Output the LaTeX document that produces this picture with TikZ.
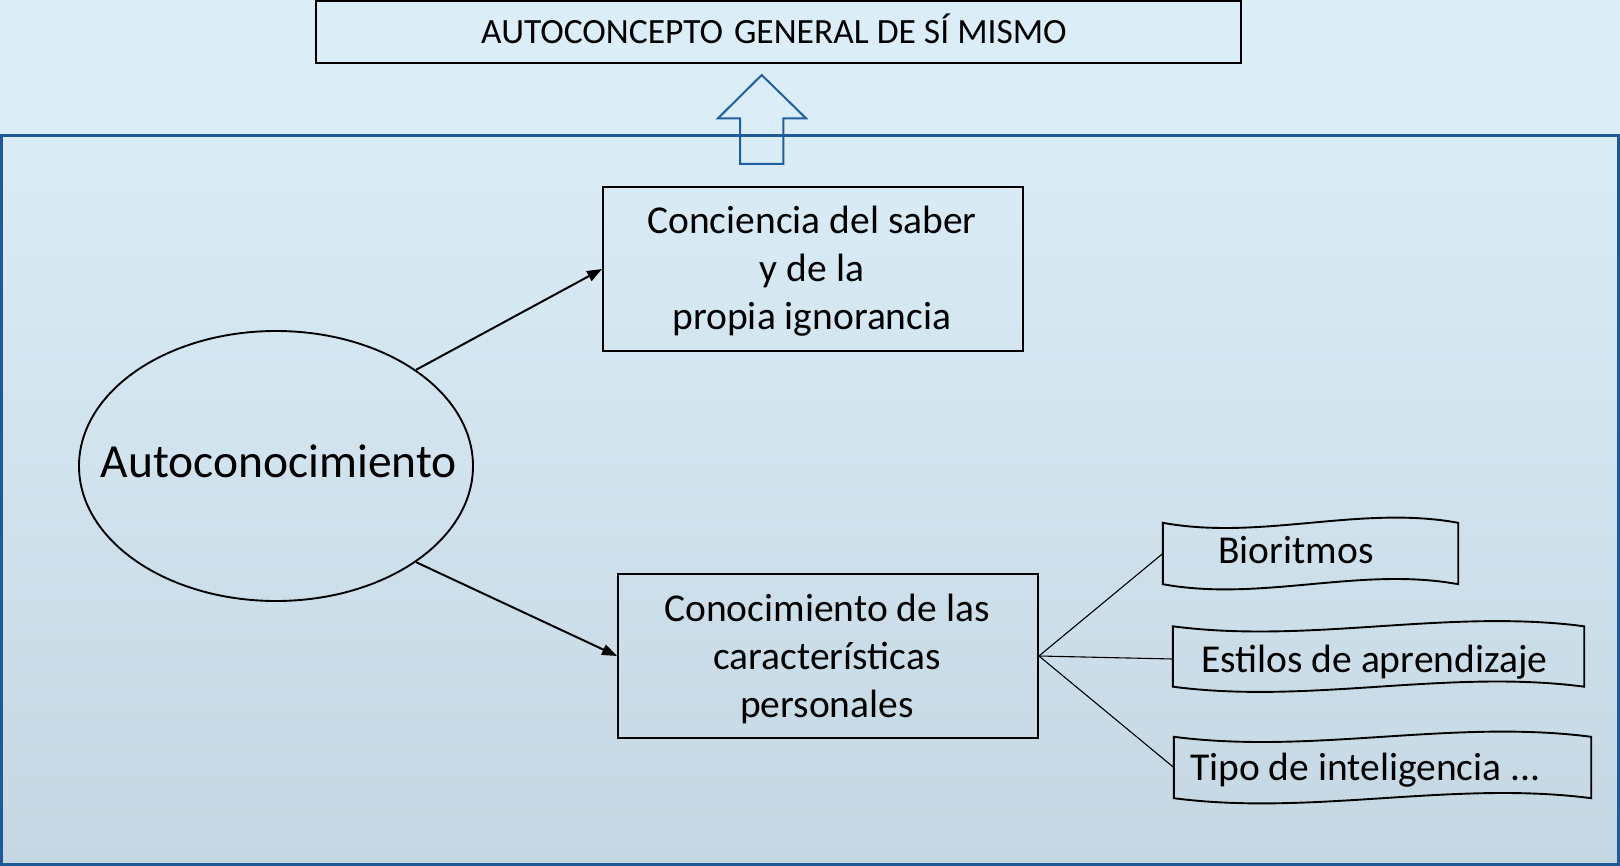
\documentclass[tikz,border=0pt]{standalone}
\usepackage{fontspec}
\setmainfont{Carlito}
\usetikzlibrary{arrows.meta,calc,shapes.geometric}
\definecolor{bgtop}{HTML}{DBEEF8}
\definecolor{paneltop}{HTML}{DAEDF7}
\definecolor{panelbot}{HTML}{C4D7E2}
\definecolor{frameblue}{HTML}{1F5A96}
\definecolor{arrowblue}{HTML}{1F5F9F}
\newcommand\wamp{18}
\newcommand\wavebox[1]{%
  \draw[waveline] (#1.north west)
    .. controls ($(#1.north west)!1/3!(#1.north east)+(0,\wamp)$) and ($(#1.north west)!2/3!(#1.north east)+(0,-\wamp)$) .. (#1.north east)
    -- (#1.south east)
    .. controls ($(#1.south east)!1/3!(#1.south west)+(0,-\wamp)$) and ($(#1.south east)!2/3!(#1.south west)+(0,\wamp)$) .. (#1.south west)
    -- cycle;}
\begin{document}
\begin{tikzpicture}[x=1pt,y=-1pt,
  boxshape/.style={draw=black, line width=1.9pt, inner sep=0pt},
  hidden/.style={inner sep=0pt, draw=none},
  waveline/.style={draw=black, line width=1.9pt},
  bigtxt/.style={font=\fontsize{47.5}{57}\selectfont, inner sep=0pt},
  midtxt/.style={font=\fontsize{39.5}{48}\selectfont, inner sep=0pt},
  titletxt/.style={font=\fontsize{35.5}{42}\selectfont, inner sep=0pt},
  conn/.style={line width=2pt, -{Triangle[length=15pt,width=11pt]}},
  thinline/.style={line width=1.1pt}
]
\useasboundingbox (0,0) rectangle (1620,866);
\fill[bgtop] (0,0) rectangle (1620,866);
% panel
\shade[top color=paneltop, bottom color=panelbot] (1.5,136) rectangle (1618.5,864.5);
\draw[frameblue, line width=3pt] (1.5,136) rectangle (1618.5,864.5);
% title box
\node[boxshape, minimum width=925pt, minimum height=62pt] (title) at (778.5,32) {};
\node[titletxt, anchor=base] (titlet) at (774,44) {AUTOCONCEPTO\hspace{11pt}GENERAL DE SÍ MISMO};
% block arrow
\draw[arrowblue, line width=2pt, line join=miter]
  (761.7,75) -- (806,118.3) -- (783.3,118.3) -- (783.3,164) -- (740,164) -- (740,118.3) -- (718,118.3) -- cycle;
% ellipse
\node[ellipse, draw=black, line width=1.9pt, minimum width=394pt, minimum height=270pt, inner sep=0pt] (auto) at (276,466) {};
\node[bigtxt, anchor=base] (autot) at (278.7,477) {Autoconocimiento};
% boxes
\node[boxshape, minimum width=420pt, minimum height=164pt] (conc) at (813,269) {};
\node[midtxt, anchor=base] (conct) at (812,234) {\begin{tabular}[t]{@{}c@{}}Conciencia del saber\\ y de la\\ propia ignorancia\end{tabular}};
\node[boxshape, minimum width=420pt, minimum height=164pt] (conoc) at (828,656) {};
\node[midtxt, anchor=base] (conoct) at (827,621) {\begin{tabular}[t]{@{}c@{}}Conocimiento de las\\ características\\ personales\end{tabular}};
% arrows
\draw[conn] (auto.north east) -- (conc.west);
\draw[conn] (auto.south east) -- (conoc.west);
% wave boxes
\node[hidden, minimum width=295pt, minimum height=61pt] (bio) at (1310.5,553.5) {};
\node[hidden, minimum width=411pt, minimum height=60pt] (est) at (1378.5,656.5) {};
\node[hidden, minimum width=417pt, minimum height=61pt] (tipo) at (1382.5,767.5) {};
\wavebox{bio}
\wavebox{est}
\wavebox{tipo}
\node[midtxt, anchor=base west] (biot) at (1218,563) {Bioritmos};
\node[midtxt, anchor=base west] (estt) at (1201,672) {Estilos de aprendizaje};
\node[midtxt, anchor=base west] (tipot) at (1190,780) {Tipo de inteligencia ...};
% thin connectors
\draw[thinline] (conoc.east) -- (bio.west);
\draw[thinline] (conoc.east) -- ([yshift=-2.5pt]est.west);
\draw[thinline] (conoc.east) -- (tipo.west);
\end{tikzpicture}
\end{document}
